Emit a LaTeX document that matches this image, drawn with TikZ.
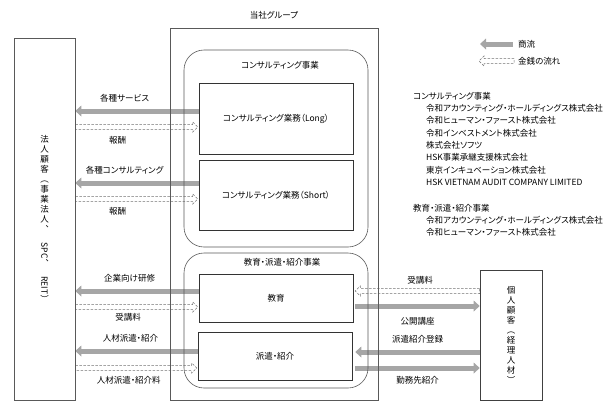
\documentclass[tikz,border=0pt]{standalone}
\usepackage{fontspec}
\setmainfont{Noto Sans CJK JP}[RawFeature=+palt]
\usetikzlibrary{arrows.meta,calc,positioning,backgrounds}

\newcommand\lblfont{\fontsize{8.5}{10}\selectfont}

\tikzset{
    money/.style={draw=black!55, line width=0.5pt, dash pattern=on 2.5pt off 1.5pt, fill=white,
        to path={($(\tikztostart)+(0,2.5pt)$) -- ($(\tikztotarget)!5pt!(\tikztostart)+(0,2.5pt)$) \tikztonodes
            -- ($(\tikztotarget)!5pt!(\tikztostart)+(0,5pt)$) -- (\tikztotarget)
            -- ($(\tikztotarget)!5pt!(\tikztostart)+(0,-5pt)$) -- ($(\tikztotarget)!5pt!(\tikztostart)+(0,-2.5pt)$)
            -- ($(\tikztostart)+(0,-2.5pt)$) -- cycle}},
    flow/.style={draw=black!35, line width=5pt, -{Triangle[length=6pt,width=11pt,line width=0pt]}}
}

\begin{document}
\begin{tikzpicture}[x=1pt, y=-1pt, font=\lblfont]

    \useasboundingbox (0,0) rectangle (612,407);

    \begin{scope}[every node/.style={draw=black!65, line width=0.6pt, inner sep=0pt, align=center}]
        \node[minimum width=61pt, minimum height=362pt] (corp) at (44.5,219)
            {法\\人\\顧\\客\\︵\\事\\業\\法\\人\\︑\\\rotatebox{-90}{SPC}\\︑\\\rotatebox{-90}{REIT}\\︶};
        \node[minimum width=208pt, minimum height=372pt] (group) at (274,214) {};
        \node[rounded corners=20pt, minimum width=184pt, minimum height=197pt] (consult) at (276,148.5) {};
        \node[rounded corners=20pt, minimum width=184pt, minimum height=135pt] (edbiz) at (276,320.5) {};
        \node[draw=black!80, minimum width=154pt, minimum height=71pt] (long) at (276,118.5) {コンサルティング業務（Long）};
        \node[draw=black!80, minimum width=154pt, minimum height=70pt] (short) at (276,195) {コンサルティング業務（Short）};
        \node[draw=black!80, minimum width=154pt, minimum height=48pt] (kyoiku) at (276,298) {教育};
        \node[draw=black!80, minimum width=154pt, minimum height=48pt] (haken) at (275,356) {派遣・紹介};
        \node[draw=black!75, minimum width=62pt, minimum height=130pt] (indiv) at (511,335)
            {個\\人\\顧\\客\\︵\\経\\理\\人\\材\\︶};
    \end{scope}

    \node[inner sep=1pt, above=7.5pt of group.north] (grouptitle) {当社グループ};
    \node[inner sep=1pt, below=10.5pt of consult.north, xshift=4pt] (consulttitle) {コンサルティング事業};
    \node[inner sep=1pt, below=4.5pt of edbiz.north, xshift=6pt] (edbiztitle) {教育・派遣・紹介事業};

    % 商流
    \begin{scope}[on background layer, every node/.style={inner sep=1pt}, every edge/.style={flow}]
        \path ([yshift=7.5pt]long.west) edge node[above=5.5pt, pos=.6] {各種サービス} ([yshift=7.5pt]long.west -| corp.east);
        \path ([yshift=12pt]short.west) edge node[above=5.5pt, pos=.6] {各種コンサルティング} ([yshift=12pt]short.west -| corp.east);
        \path ([yshift=7pt]kyoiku.west) edge node[above=5.5pt, pos=.56] {企業向け研修} ([yshift=7pt]kyoiku.west -| corp.east);
        \path ([yshift=5pt]haken.west) edge node[above=5.5pt, pos=.55] {人材派遣・紹介} ([yshift=5pt]haken.west -| corp.east);

        \path ([xshift=2pt,yshift=-8pt]kyoiku.east) edge node[below=7.5pt] {公開講座} ([yshift=-8pt]kyoiku.east -| indiv.west);
        \path ([yshift=4pt]haken.east -| indiv.west) edge node[above=5.5pt] {派遣紹介登録} ([xshift=3pt,yshift=4pt]haken.east);
        \path ([xshift=3pt,yshift=-12pt]haken.east) edge node[below=4.5pt] {勤務先紹介} ([yshift=-12pt]haken.east -| indiv.west);
    \end{scope}

    % 金銭の流れ
    \begin{scope}[on background layer, every node/.style={inner sep=1pt}, every edge/.style={money}]
        \path ([yshift=-8.5pt]long.west -| corp.east) edge node[below=11pt, pos=.36] {報酬} ([xshift=-1pt,yshift=-8.5pt]long.west);
        \path ([yshift=-4pt]short.west -| corp.east) edge node[below=10pt, pos=.36] {報酬} ([xshift=-1pt,yshift=-4pt]short.west);
        \path ([yshift=-9pt]kyoiku.west -| corp.east) edge node[below=7.5pt, pos=.45] {受講料} ([xshift=-1pt,yshift=-9pt]kyoiku.west);
        \path ([yshift=-12pt]haken.west -| corp.east) edge node[below=9.5pt, pos=.46] {人材派遣・紹介料} ([xshift=-1pt,yshift=-12pt]haken.west);

        \path ([yshift=7pt]kyoiku.east -| indiv.west) edge node[above=3pt] {受講料} ([xshift=2pt,yshift=7pt]kyoiku.east);
    \end{scope}

    % 凡例
    \node[inner sep=1pt, anchor=west] (lgflow) at (517,44) {商流};
    \node[inner sep=1pt, anchor=west] (lgmoney) at (517,61) {金銭の流れ};
    \path ([xshift=-4pt]lgflow.west) edge[flow] ([xshift=-37pt]lgflow.west);
    \path ([xshift=-3pt]lgmoney.west) edge[money] ([xshift=-38pt]lgmoney.west);

    % グループ会社
    \begin{scope}[every node/.style={anchor=north west, align=left, inner sep=0pt, font=\fontsize{8.5}{12.3}\selectfont}]
        \node (consultlist) at (413,92) {コンサルティング事業\\
            \hspace*{13pt}令和アカウンティング・ホールディングス株式会社\\
            \hspace*{13pt}令和ヒューマン・ファースト株式会社\\
            \hspace*{13pt}令和インベストメント株式会社\\
            \hspace*{13pt}株式会社ソフツ\\
            \hspace*{13pt}HSK事業承継支援株式会社\\
            \hspace*{13pt}東京インキュベーション株式会社\\
            \hspace*{13pt}HSK VIETNAM AUDIT COMPANY LIMITED};
        \node (edbizlist) at (413,204) {教育・派遣・紹介事業\\
            \hspace*{13pt}令和アカウンティング・ホールディングス株式会社\\
            \hspace*{13pt}令和ヒューマン・ファースト株式会社};
    \end{scope}

\end{tikzpicture}
\end{document}
